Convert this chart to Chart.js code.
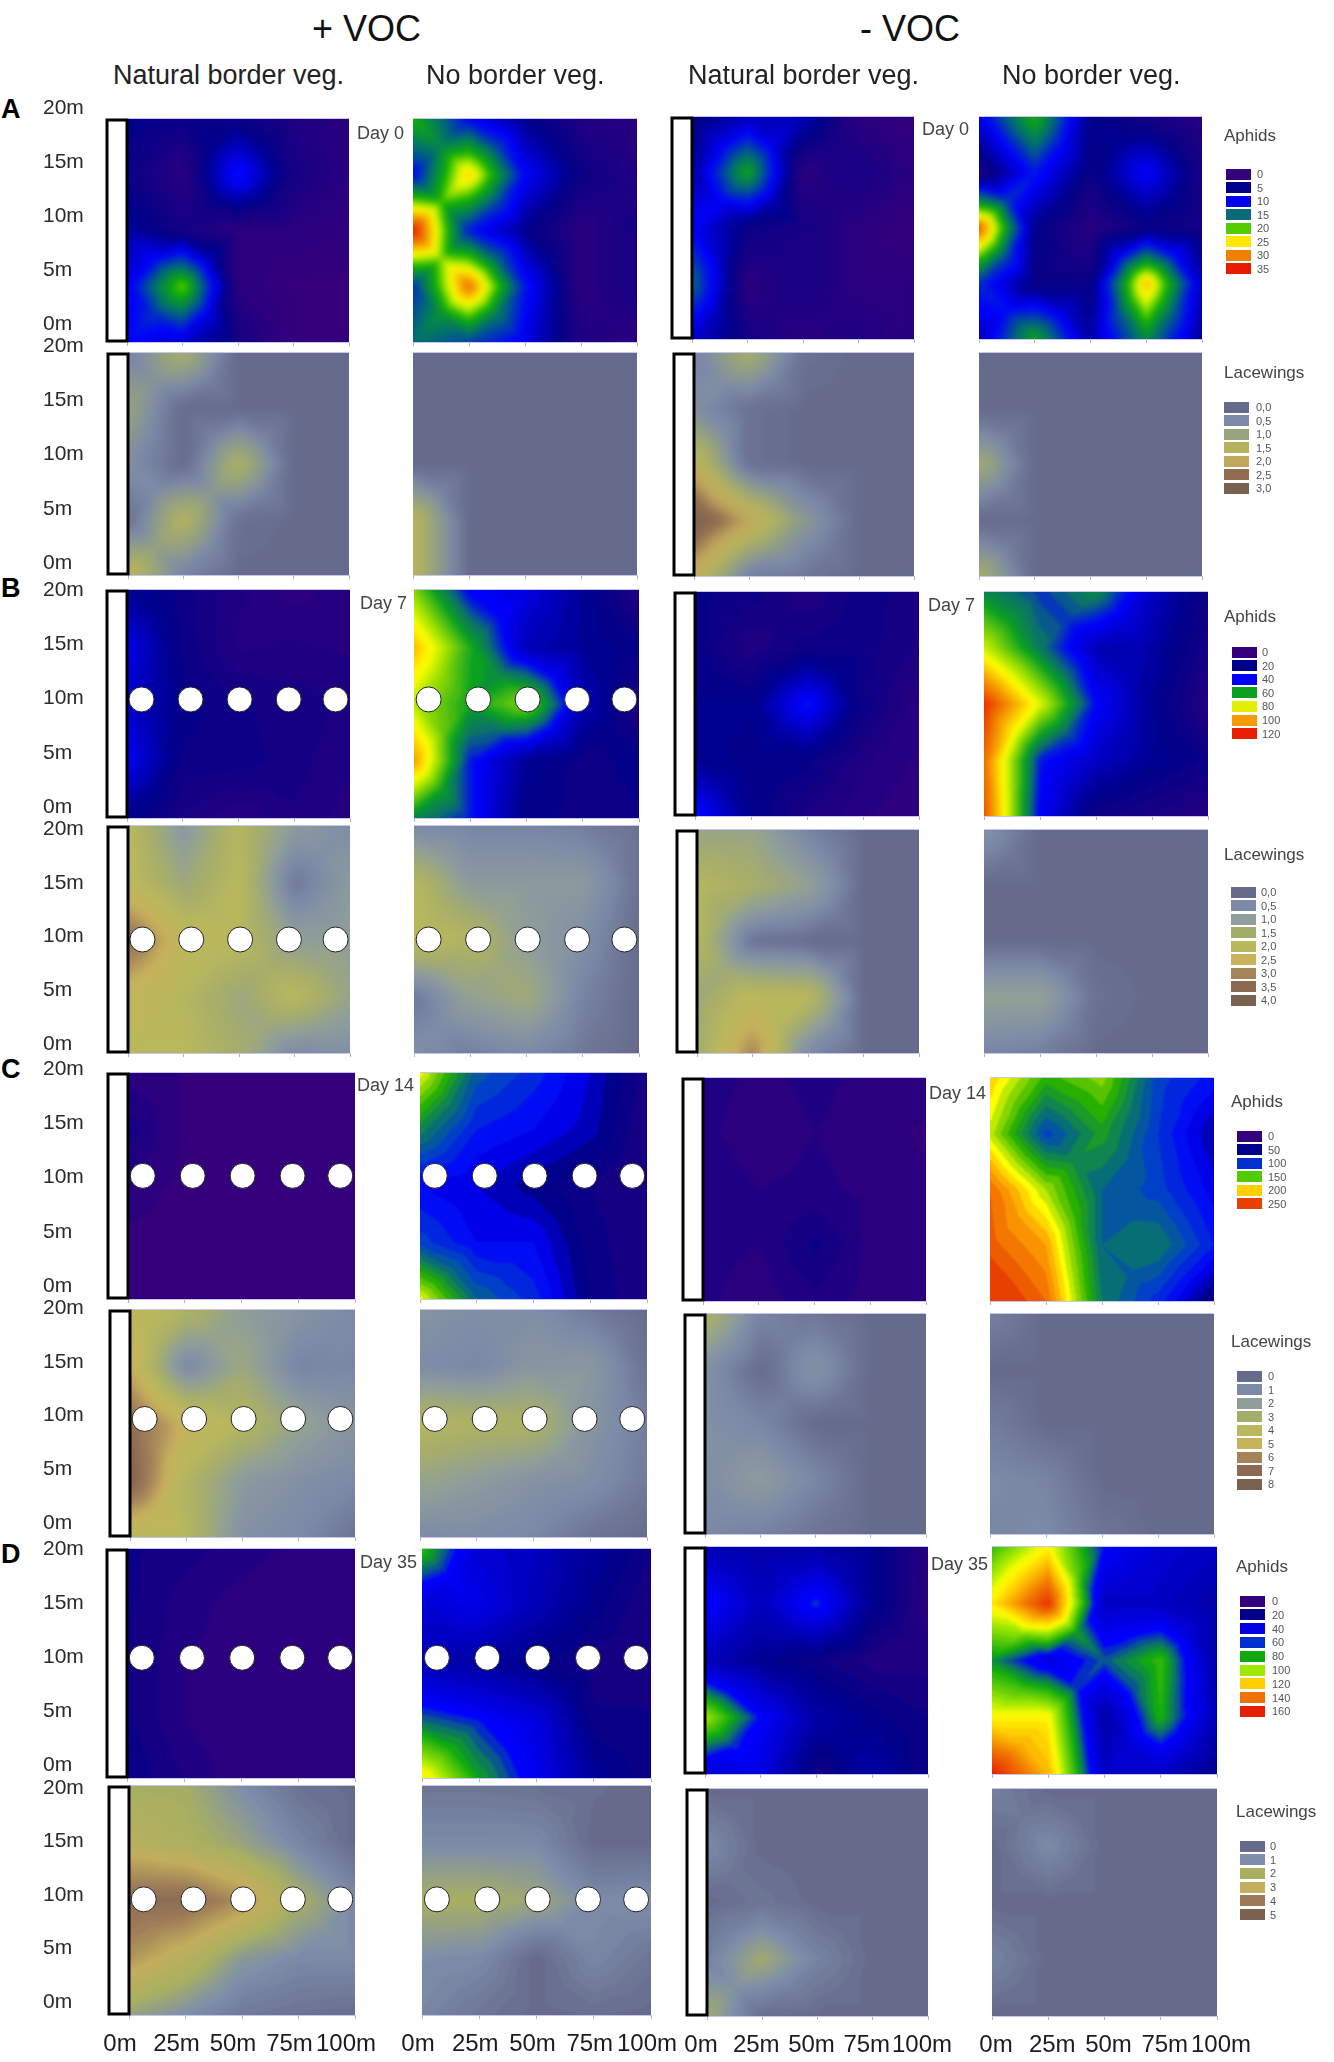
<!DOCTYPE html>
<html>
<head>
<meta charset="utf-8">
<title>Aphids and lacewings</title>
<script src="https://cdn.jsdelivr.net/npm/chart.js@4"></script>
<style>
  html, body { margin: 0; padding: 0; background: #fff; }
  #page { position: relative; width: 1334px; height: 2062px; overflow: hidden; font-family: "Liberation Sans", Arial, sans-serif; color: #222; }
  #page canvas { position: absolute; }
  .txt { position: absolute; white-space: nowrap; line-height: 1; transform: translateY(-50%); }
  .head { font-size: 36px; color: #111; }
  .sub { font-size: 27px; color: #222; }
  .letter { font-size: 27px; font-weight: bold; color: #000; }
  .day { font-size: 18px; color: #444; }
  .ltitle { font-size: 17px; color: #444; }
  .lnum { font-size: 11px; color: #555; }
  .swatch { position: absolute; width: 25px; height: 11px; }
</style>
</head>
<body>
<div id="page"></div>
<script>
// tick labels
const xTickLabels = ['0m', '25m', '50m', '75m', '100m'];
const yTickLabels = ['0m', '5m', '10m', '15m', '20m'];
const gridX = [0, 25, 50, 75, 100];
const gridY = [0, 5, 10, 15, 20];
const trapX = [6.5, 28.5, 50.5, 72.5, 93.5];

// legends
const aphidLevelsA = [0, 5, 10, 15, 20, 25, 30, 35];
const aphidColorsA = ['#34007c', '#00008a', '#0000f0', '#0b6a78', '#55cc00', '#ffe800', '#f08000', '#e81c00'];
const laceLevelsA = [0, 0.5, 1, 1.5, 2, 2.5, 3];
const laceColorsA = ['#666b8c', '#7c8aa8', '#96a37c', '#b5b35c', '#c2a85c', '#906c50', '#7a6250'];
const aphidLevelsB = [0, 20, 40, 60, 80, 100, 120];
const aphidColorsB = ['#34007c', '#00008a', '#0000f5', '#0aa020', '#e0f000', '#f59a00', '#e82000'];
const laceLevelsB = [0, 0.5, 1, 1.5, 2, 2.5, 3, 3.5, 4];
const laceColorsB = ['#666b8c', '#7c8aa8', '#8f9e9a', '#a5ad6c', '#b9b85c', '#c8b25c', '#a6845a', '#8c6a52', '#7a6250'];
const aphidLevelsC = [0, 50, 100, 150, 200, 250];
const aphidColorsC = ['#34007c', '#00008a', '#0030d0', '#50cc00', '#ffd000', '#e84000'];
const laceLevelsC = [0, 1, 2, 3, 4, 5, 6, 7, 8];
const laceColorsC = ['#666b8c', '#7c8aa8', '#8f9e9a', '#a5ad6c', '#b9b85c', '#c8b25c', '#a6845a', '#8c6a52', '#7a6250'];
const aphidLevelsD = [0, 20, 40, 60, 80, 100, 120, 140, 160];
const aphidColorsD = ['#34007c', '#00008a', '#0000e0', '#0030d0', '#10aa10', '#a0e800', '#ffd000', '#f07000', '#e82000'];
const laceLevelsD = [0, 1, 2, 3, 4, 5];
const laceColorsD = ['#666b8c', '#7e8eab', '#a8b060', '#c2ae5c', '#9c7a58', '#7a6250'];

// colour ramps for the maps, finer than the legend swatches
const rampLevelsA = [0, 5, 10, 15, 20, 22.5, 25, 30, 35];
const rampColorsA = ['#34007c', '#00008a', '#0000ff', '#006e70', '#10b000', '#90e000', '#ffff00', '#f08000', '#e81c00'];
const rampLevelsB = [0, 20, 40, 50, 60, 75, 85, 100, 120];
const rampColorsB = ['#34007c', '#00008a', '#0000ff', '#0a6e70', '#0aa020', '#9ce000', '#ffff00', '#f59a00', '#e82000'];
const rampLevelsC = [0, 50, 75, 100, 125, 150, 175, 190, 210, 250];
const rampColorsC = ['#34007c', '#00008a', '#0000ff', '#0040c8', '#0a7a60', '#28b000', '#a0e000', '#ffff00', '#ffb000', '#e84000'];
const rampLevelsD = [0, 20, 40, 60, 70, 80, 100, 110, 120, 140, 160];
const rampColorsD = ['#34007c', '#00008a', '#0000c4', '#0000ff', '#0a6e70', '#10aa10', '#a0e800', '#ffff00', '#ffd000', '#f07000', '#e82000'];

// counts read at each station, rows run from 20m down to 0m, columns 0m to 100m
const aphidsA1 = [[5, 4, 4, 2, 1], [4, 1, 11, 3, 1], [6, 3, 1, 1, 0.5], [9, 22, 1, 0, 0], [10, 8, 3, 0, 0]];
const aphidsA2 = [[20, 10, 5, 2, 1], [10, 27, 10, 4, 2], [35, 11, 5, 1, 3], [12, 31, 11, 1, 3], [15, 13, 9, 2, 1]];
const aphidsA3 = [[4, 7, 7, 1, 0], [6, 19, 1, 3, 1], [10, 4, 3, 1, 0], [15, 1, 3, 1, 1], [8, 3, 1, 2, 1]];
const aphidsA4 = [[9, 20, 5, 3, 1], [2, 11, 4, 10, 3], [32, 5, 1, 4, 3], [12, 4, 4, 28, 7], [7, 19, 6, 17, 5]];
const laceA1 = [[0.4, 1.3, 0, 0, 0], [1, 0, 0, 0, 0], [0.6, 0, 1.4, 0, 0], [0.1, 1.5, 0.1, 0, 0], [1.7, 0.4, 0, 0, 0]];
const laceA2 = [[0, 0, 0, 0, 0], [0, 0, 0, 0, 0], [0, 0, 0, 0, 0], [1.6, 0, 0, 0, 0], [1.6, 0, 0, 0, 0]];
const laceA3 = [[0.4, 1.3, 0.1, 0, 0], [0.6, 0.1, 0, 0, 0], [1.8, 0.1, 0, 0, 0], [3, 2, 0.8, 0, 0], [1.8, 0.3, 0.2, 0, 0]];
const laceA4 = [[0, 0, 0, 0, 0], [0, 0, 0, 0, 0], [1.2, 0, 0, 0, 0], [0, 0, 0, 0, 0], [1.3, 0, 0, 0, 0]];

const aphidsB1 = [[22, 15, 8, 3, 6], [36, 16, 7, 8, 7], [32, 18, 14, 12, 10], [38, 16, 15, 12, 8], [20, 10, 5, 10, 6]];
const aphidsB2 = [[72, 38, 35, 22, 8], [95, 62, 28, 22, 18], [78, 60, 73, 28, 10], [100, 42, 22, 15, 18], [55, 42, 18, 15, 16]];
const aphidsB3 = [[18, 15, 8, 15, 12], [18, 8, 15, 15, 10], [20, 20, 42, 16, 4], [22, 18, 18, 8, 4], [42, 20, 10, 5, 2]];
const aphidsB4 = [[55, 45, 55, 30, 15], [80, 52, 28, 25, 12], [118, 82, 40, 22, 6], [108, 42, 30, 22, 16], [112, 38, 15, 10, 6]];
const laceB1 = [[2, 0.8, 1.9, 0.9, 0.6], [2.1, 1.3, 2, 0.2, 0.9], [3.4, 2.2, 2, 1, 1], [2.3, 1.9, 1.3, 2, 1.2], [2, 2, 1.5, 0.5, 0.6]];
const laceB2 = [[0.5, 0.4, 0.4, 0.3, 0.1], [1.9, 0.9, 0.9, 0.9, 0.1], [2.1, 1.8, 1, 0.6, 0], [0.2, 1.1, 1.4, 0.4, 0], [0.6, 0.3, 0.5, 0.2, 0]];
const laceB3 = [[1.2, 1.2, 0.4, 0, 0], [1.9, 1.6, 1.1, 0, 0], [1.9, 0.1, 0, 0, 0], [1.3, 2.1, 2, 0, 0], [1.5, 3, 0.5, 0, 0]];
const laceB4 = [[0.7, 0, 0, 0, 0], [0, 0, 0, 0, 0], [0, 0, 0, 0, 0], [1.1, 1.1, 0.1, 0, 0], [0.4, 0.3, 0, 0, 0]];

const aphidsC1 = [[12, 4, 3, 2, 2], [30, 3, 2, 2, 2], [10, 2, 2, 2, 2], [3, 2, 2, 2, 2], [3, 2, 2, 2, 2]];
const aphidsC2 = [[190, 110, 90, 65, 30], [130, 85, 75, 60, 25], [75, 65, 50, 35, 25], [100, 75, 75, 40, 25], [190, 115, 90, 45, 25]];
const aphidsC3 = [[20, 12, 18, 12, 10], [18, 8, 15, 10, 3], [22, 15, 18, 12, 8], [18, 15, 38, 12, 10], [18, 8, 22, 10, 8]];
const aphidsC4 = [[205, 150, 170, 100, 80], [180, 100, 140, 95, 55], [235, 175, 115, 100, 70], [240, 215, 115, 125, 85], [265, 235, 125, 90, 40]];
const laceC1 = [[4.5, 3.5, 2, 1.5, 1], [5, 0.9, 2.6, 0.8, 0.9], [7, 4.8, 3.8, 2.3, 1.5], [7.5, 3.6, 1.8, 1.3, 1], [4, 3.8, 1.3, 1, 0.3]];
const laceC2 = [[1.5, 1.2, 1.2, 0.5, 0], [1.1, 0.9, 1.6, 1.7, 0.2], [3.8, 3.5, 3.4, 1.5, 0.6], [2.4, 1.9, 1.4, 1.2, 0.5], [1, 1.1, 0.9, 0.3, 0]];
const laceC3 = [[3.5, 0.8, 0.4, 0, 0], [1.3, 0, 1.4, 0, 0], [1.3, 0.9, 0, 0, 0], [1.2, 1.9, 0.9, 0, 0], [0.9, 0.7, 0.3, 0, 0]];
const laceC4 = [[0.7, 0, 0, 0, 0], [0, 0, 0, 0, 0], [0.6, 0, 0, 0, 0], [1, 0.8, 0, 0, 0], [0.9, 1, 0.3, 0, 0]];

const aphidsD1 = [[15, 12, 8, 5, 3], [15, 8, 4, 2, 2], [15, 6, 4, 3, 3], [15, 6, 2, 2, 2], [18, 10, 3, 2, 2]];
const aphidsD2 = [[85, 45, 38, 25, 15], [45, 52, 35, 20, 10], [35, 28, 18, 12, 10], [70, 62, 50, 15, 15], [115, 78, 55, 25, 15]];
const aphidsD3 = [[35, 30, 30, 22, 5], [62, 38, 65, 22, 4], [38, 22, 15, 8, 8], [100, 60, 30, 20, 14], [45, 50, 12, 30, 14]];
const aphidsD4 = [[85, 112, 60, 45, 40], [115, 155, 40, 40, 30], [75, 50, 68, 85, 30], [112, 112, 30, 82, 35], [160, 125, 40, 40, 20]];
const laceD1 = [[2, 1.9, 1, 0.2, 0], [2.6, 2.2, 1.6, 0.8, 0], [4.5, 4.5, 3.6, 2, 0.9], [3.5, 2.6, 1.3, 0.9, 0.9], [1.6, 1, 0.4, 0.2, 0.1]];
const laceD2 = [[0.3, 0.3, 0.2, 0.1, 0], [0.9, 0.9, 0.9, 0, 0], [2, 2, 1.7, 0.9, 1], [1, 0.9, 0, 0.8, 0.3], [0.8, 0.3, 0, 0.1, 0]];
const laceD3 = [[0, 0, 0, 0, 0], [0.9, 0, 0, 0, 0], [0, 0.3, 0, 0, 0], [0.7, 1.8, 0.7, 0, 0], [1.8, 0.1, 0, 0, 0]];
const laceD4 = [[0.6, 0, 0, 0, 0], [0, 0.9, 0, 0, 0], [0, 0, 0, 0, 0], [0.7, 0, 0, 0, 0], [0, 0, 0, 0, 0]];

const MARGIN = { left: 84, top: 24, right: 45, bottom: 45 };
const Y_LABEL_LEFT = 43;
const page = document.getElementById('page');

function hexToRgb(h) {
  return [parseInt(h.slice(1, 3), 16), parseInt(h.slice(3, 5), 16), parseInt(h.slice(5, 7), 16)];
}

function rampColor(v, levels, colors, band) {
  const top = levels[levels.length - 1];
  v = Math.max(0, Math.min(top, v));
  v = Math.round(v / band) * band;
  let i = 0;
  while (i < levels.length - 2 && v > levels[i + 1]) i++;
  const t = Math.min(1, (v - levels[i]) / (levels[i + 1] - levels[i]));
  const a = hexToRgb(colors[i]), b = hexToRgb(colors[i + 1]);
  return [a[0] + (b[0] - a[0]) * t, a[1] + (b[1] - a[1]) * t, a[2] + (b[2] - a[2]) * t];
}

// each grid cell is split into four triangles around its mean
function sampleGrid(grid, x, y) {
  const fx = Math.max(0, Math.min(3.9999, x / 25));
  const fy = Math.max(0, Math.min(3.9999, (20 - y) / 5));
  const c = Math.floor(fx), r = Math.floor(fy);
  const u = fx - c, w = fy - r;
  const a = grid[r][c], b = grid[r][c + 1], d = grid[r + 1][c], e = grid[r + 1][c + 1];
  const m = (a + b + d + e) / 4;
  if (w <= u && w <= 1 - u) return m * 2 * w + a * (1 - u - w) + b * (u - w);
  if (u >= w && u >= 1 - w) { const q = 1 - u; return m * 2 * q + b * (1 - w - q) + e * (w - q); }
  if (u <= w && u <= 1 - w) return m * 2 * u + a * (1 - w - u) + d * (w - u);
  const q = 1 - w;
  return m * 2 * q + d * (1 - u - q) + e * (u - q);
}

function heatPlugin(grid, opts) {
  return {
    id: 'heat',
    beforeDatasetsDraw(chart) {
      const a = chart.chartArea, xs = chart.scales.x, ys = chart.scales.y, ctx = chart.ctx;
      const w = Math.round(a.right - a.left), h = Math.round(a.bottom - a.top);
      const off = document.createElement('canvas');
      off.width = w; off.height = h;
      const octx = off.getContext('2d');
      const img = octx.createImageData(w, h);
      for (let j = 0; j < h; j++) {
        const yv = ys.getValueForPixel(a.top + j + 0.5);
        for (let i = 0; i < w; i++) {
          const xv = xs.getValueForPixel(a.left + i + 0.5);
          const c = rampColor(sampleGrid(grid, xv, yv), opts.levels, opts.colors, opts.band);
          const k = (j * w + i) * 4;
          img.data[k] = c[0]; img.data[k + 1] = c[1]; img.data[k + 2] = c[2]; img.data[k + 3] = 255;
        }
      }
      octx.putImageData(img, 0, 0);
      ctx.save();
      ctx.drawImage(off, a.left, a.top);
      ctx.beginPath();
      ctx.rect(a.left, a.top, w, h);
      ctx.clip();
      ctx.filter = 'blur(' + opts.blur + 'px)';
      ctx.drawImage(off, a.left, a.top);
      ctx.restore();
      ctx.fillStyle = 'rgba(150,150,225,0.55)';
      ctx.fillRect(a.left, a.top - 1, w, 1);
    },
    afterDatasetsDraw(chart) {
      if (!opts.barWidth) return;
      const a = chart.chartArea, ctx = chart.ctx;
      ctx.save();
      ctx.fillStyle = '#fff';
      ctx.strokeStyle = '#000';
      ctx.lineWidth = 3;
      ctx.beginPath();
      ctx.rect(a.left - opts.barWidth, a.top + 1, opts.barWidth, a.bottom - a.top - 2);
      ctx.fill();
      ctx.stroke();
      ctx.restore();
    }
  };
}

// stop the layout from reserving room for labels that hang over the plot edge
function fixBox(s, w, h) {
  if (w != null) s.width = w;
  if (h != null) s.height = h;
  s.paddingLeft = 0; s.paddingRight = 0; s.paddingTop = 0; s.paddingBottom = 0;
}

function addPanel(box, grid, opts) {
  const canvas = document.createElement('canvas');
  const marginLeft = opts.yLabels ? box[0] - Y_LABEL_LEFT : MARGIN.left;
  const cw = box[2] - box[0] + marginLeft + MARGIN.right;
  const ch = box[3] - box[1] + MARGIN.top + MARGIN.bottom;
  canvas.style.left = (box[0] - marginLeft) + 'px';
  canvas.style.top = (box[1] - MARGIN.top) + 'px';
  canvas.style.width = cw + 'px';
  canvas.style.height = ch + 'px';
  canvas.width = cw;
  canvas.height = ch;
  page.appendChild(canvas);

  const datasets = [{
    data: opts.trapY == null ? [] : trapX.map(x => ({ x: x, y: opts.trapY })),
    pointRadius: 12.5,
    pointBackgroundColor: '#fff',
    pointBorderColor: '#222',
    pointBorderWidth: 1,
    showLine: false,
    clip: false
  }];

  // the printed y labels are a little tighter than the plot, so they get their own axis
  const k = (opts.labelBottom - opts.labelTop) / 20;
  const labelMin = (opts.labelBottom - box[3]) / k;
  const labelMax = 20 + (opts.labelTop - box[1]) / k;

  new Chart(canvas.getContext('2d'), {
    type: 'scatter',
    data: { datasets },
    plugins: [heatPlugin(grid, opts)],
    options: {
      responsive: false,
      animation: false,
      events: [],
      layout: { padding: { top: MARGIN.top, right: MARGIN.right, left: 0, bottom: 0 } },
      plugins: { legend: { display: false }, tooltip: { enabled: false } },
      scales: {
        x: {
          type: 'linear', min: 0, max: 100,
          afterFit: s => fixBox(s, null, MARGIN.bottom),
          afterBuildTicks: s => { s.ticks = gridX.map(v => ({ value: v })); },
          border: { display: true, color: 'rgba(150,150,225,0.55)' },
          grid: { drawOnChartArea: false, drawTicks: true, tickLength: 4, color: '#b5b5b5' },
          ticks: {
            display: !!opts.xLabels,
            autoSkip: false, maxRotation: 0, padding: 11,
            labelOffset: opts.xOffset || 0,
            color: '#1c1c1c',
            font: { family: 'Liberation Sans', size: 24 },
            callback: (v, i) => xTickLabels[i]
          }
        },
        y: { type: 'linear', min: 0, max: 20, display: false },
        yLabels: {
          type: 'linear', position: 'left', min: labelMin, max: labelMax,
          afterFit: s => fixBox(s, marginLeft, null),
          afterBuildTicks: s => { s.ticks = gridY.map(v => ({ value: v })); },
          border: { display: false },
          grid: { display: false, drawTicks: false },
          ticks: {
            display: !!opts.yLabels,
            autoSkip: false, crossAlign: 'far',
            color: '#2a2a2a',
            font: { family: 'Liberation Sans', size: 21 },
            callback: (v, i) => yTickLabels[i]
          }
        }
      }
    }
  });
}

function addText(cls, text, x, y) {
  const el = document.createElement('div');
  el.className = 'txt ' + cls;
  el.textContent = text;
  el.style.left = x + 'px';
  el.style.top = y + 'px';
  page.appendChild(el);
}

function addLegend(title, levels, colors, labels, titleX, titleY, swatchX, firstY, step, labelX) {
  addText('ltitle', title, titleX, titleY);
  levels.forEach((lv, i) => {
    const s = document.createElement('div');
    s.className = 'swatch';
    s.style.left = swatchX + 'px';
    s.style.top = (firstY + step * i - 5.5) + 'px';
    s.style.background = colors[i];
    page.appendChild(s);
    addText('lnum', labels ? labels[i] : String(lv), labelX, firstY + step * i);
  });
}

function commaLabels(levels) {
  return levels.map(v => v.toFixed(1).replace('.', ','));
}

// one row block per sampling day: aphid panels on top, lacewing panels under them
const blocks = [
  {
    aphids: [aphidsA1, aphidsA2, aphidsA3, aphidsA4], lace: [laceA1, laceA2, laceA3, laceA4],
    aphidLevels: rampLevelsA, aphidColors: rampColorsA, laceLevels: laceLevelsA, laceColors: laceColorsA,
    aphidBoxes: [[127, 119, 349, 342], [413, 119, 637, 342], [692, 117, 914, 339], [979, 117, 1202, 339]],
    laceBoxes: [[128, 353, 349, 575], [413, 353, 637, 575], [694, 353, 914, 576], [979, 353, 1202, 576]],
    aphidLabelY: [108, 324], laceLabelY: [346, 563], trapAphid: null, trapLace: null,
    aphidBand: 0.4, laceBand: 0.05, aphidBlur: 3, laceBlur: 4
  },
  {
    aphids: [aphidsB1, aphidsB2, aphidsB3, aphidsB4], lace: [laceB1, laceB2, laceB3, laceB4],
    aphidLevels: rampLevelsB, aphidColors: rampColorsB, laceLevels: laceLevelsB, laceColors: laceColorsB,
    aphidBoxes: [[127, 590, 350, 818], [414, 590, 639, 818], [695, 592, 919, 816], [984, 592, 1208, 816]],
    laceBoxes: [[128, 826, 350, 1053], [414, 826, 639, 1053], [697, 830, 919, 1053], [984, 830, 1208, 1053]],
    aphidLabelY: [590, 807], laceLabelY: [829, 1044], trapAphid: 10.4, trapLace: 10,
    aphidBand: 3, laceBand: 0.05, aphidBlur: 2, laceBlur: 4
  },
  {
    aphids: [aphidsC1, aphidsC2, aphidsC3, aphidsC4], lace: [laceC1, laceC2, laceC3, laceC4],
    aphidLevels: rampLevelsC, aphidColors: rampColorsC, laceLevels: laceLevelsC, laceColors: laceColorsC,
    aphidBoxes: [[128, 1073, 355, 1299], [420, 1073, 647, 1299], [703, 1078, 926, 1301], [990, 1078, 1214, 1301]],
    laceBoxes: [[130, 1310, 355, 1537], [420, 1310, 647, 1537], [705, 1314, 926, 1534], [990, 1314, 1214, 1534]],
    aphidLabelY: [1069, 1286], laceLabelY: [1308, 1523], trapAphid: 10.9, trapLace: 10.4,
    aphidBand: 10, laceBand: 0.1, aphidBlur: 1, laceBlur: 4
  },
  {
    aphids: [aphidsD1, aphidsD2, aphidsD3, aphidsD4], lace: [laceD1, laceD2, laceD3, laceD4],
    aphidLevels: rampLevelsD, aphidColors: rampColorsD, laceLevels: laceLevelsD, laceColors: laceColorsD,
    aphidBoxes: [[127, 1549, 355, 1778], [422, 1549, 651, 1778], [705, 1547, 928, 1774], [992, 1547, 1217, 1774]],
    laceBoxes: [[129, 1786, 355, 2015], [422, 1786, 651, 2015], [707, 1789, 928, 2016], [992, 1789, 1217, 2016]],
    aphidLabelY: [1549, 1765], laceLabelY: [1788, 2002], trapAphid: 10.5, trapLace: 10.1,
    aphidBand: 4, laceBand: 0.15, aphidBlur: 1.5, laceBlur: 1.5
  }
];

const xOffsets = [-9, -4, -6, 4];

blocks.forEach((b, rowIdx) => {
  for (let col = 0; col < 4; col++) {
    const hasBar = col === 0 || col === 2;
    const hasTraps = col < 2;
    addPanel(b.aphidBoxes[col], b.aphids[col], {
      levels: b.aphidLevels, colors: b.aphidColors, band: b.aphidBand, blur: b.aphidBlur,
      barWidth: hasBar ? 20 : 0,
      trapY: hasTraps ? b.trapAphid : null,
      yLabels: col === 0, labelTop: b.aphidLabelY[0], labelBottom: b.aphidLabelY[1]
    });
    addPanel(b.laceBoxes[col], b.lace[col], {
      levels: b.laceLevels, colors: b.laceColors, band: b.laceBand, blur: b.laceBlur,
      barWidth: hasBar ? 20 : 0,
      trapY: hasTraps ? b.trapLace : null,
      yLabels: col === 0, labelTop: b.laceLabelY[0], labelBottom: b.laceLabelY[1],
      xLabels: rowIdx === 3, xOffset: xOffsets[col]
    });
  }
});

// headings
addText('head', '+ VOC', 312, 29);
addText('head', '- VOC', 860, 29);
addText('sub', 'Natural border veg.', 113, 75);
addText('sub', 'No border veg.', 426, 75);
addText('sub', 'Natural border veg.', 688, 75);
addText('sub', 'No border veg.', 1002, 75);
addText('letter', 'A', 1, 109);
addText('letter', 'B', 1, 588);
addText('letter', 'C', 1, 1069);
addText('letter', 'D', 1, 1554);
addText('day', 'Day 0', 357, 133);
addText('day', 'Day 0', 922, 129);
addText('day', 'Day 7', 360, 603);
addText('day', 'Day 7', 928, 605);
addText('day', 'Day 14', 357, 1085);
addText('day', 'Day 14', 929, 1093);
addText('day', 'Day 35', 360, 1562);
addText('day', 'Day 35', 931, 1564);

// legends
addLegend('Aphids', aphidLevelsA, aphidColorsA, null, 1224, 135, 1226, 174, 13.5, 1257);
addLegend('Lacewings', laceLevelsA, laceColorsA, commaLabels(laceLevelsA), 1224, 372, 1224, 407, 13.5, 1256);
addLegend('Aphids', aphidLevelsB, aphidColorsB, null, 1224, 616, 1232, 652, 13.6, 1262);
addLegend('Lacewings', laceLevelsB, laceColorsB, commaLabels(laceLevelsB), 1224, 854, 1231, 892, 13.55, 1261);
addLegend('Aphids', aphidLevelsC, aphidColorsC, null, 1231, 1101, 1237, 1136, 13.5, 1268);
addLegend('Lacewings', laceLevelsC, laceColorsC, null, 1231, 1341, 1237, 1376, 13.5, 1268);
addLegend('Aphids', aphidLevelsD, aphidColorsD, null, 1236, 1566, 1240, 1601, 13.8, 1272);
addLegend('Lacewings', laceLevelsD, laceColorsD, null, 1236, 1811, 1240, 1846, 13.7, 1270);
</script>
</body>
</html>
